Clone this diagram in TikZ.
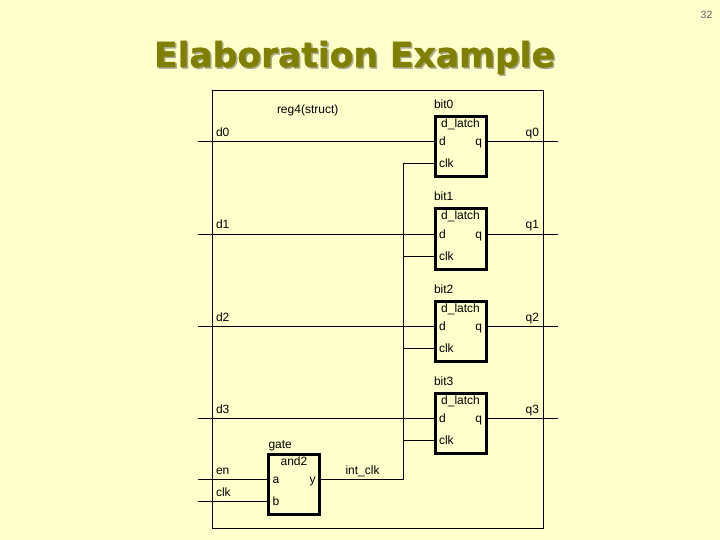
\documentclass[tikz,border=0pt]{standalone}
\usepackage{fontspec}
\setmainfont{Liberation Sans}
\newfontfamily\titlefont[FakeBold=1.2]{DejaVu Sans Bold}
\usepackage{xcolor}
\usetikzlibrary{positioning}
\definecolor{slideBg}{HTML}{FFFFCC}
\definecolor{titleOlive}{HTML}{808000}
\definecolor{titleShade}{HTML}{A8A890}
\definecolor{pageGray}{HTML}{606060}

\begin{document}
\begin{tikzpicture}[
    x=1pt, y=-1pt,
    txt/.style={
      inner sep=0pt, outer sep=0pt, text height=10pt, text depth=2pt,
      font=\fontsize{12}{14}\selectfont
    },
    heading/.style={
      inner sep=0pt, outer sep=0pt, font=\titlefont\fontsize{34.5}{40}\selectfont
    },
    block/.style={
      rectangle, draw, line width=3pt, inner sep=0pt, outer sep=0pt,
      minimum width=51pt, minimum height=60pt
    },
    wire/.style={line width=1pt},
  ]

  \useasboundingbox[fill=slideBg] (0,0) rectangle (720,540);

  %% ── Page number and title ──
  \node[txt, text=pageGray, font=\fontsize{10.5}{12}\selectfont] (page) at (706.5,15) {32};
  \node[heading, text=titleShade] (shadow) at (356,59) {Elaboration Example};
  \node[heading, text=titleOlive] (title) at (354.5,57.5) {Elaboration Example};

  %% ── Outer frame ──
  \node[rectangle, draw, line width=1pt, inner sep=0pt, outer sep=0pt,
        minimum width=331pt, minimum height=437pt] (frame) at (377.5,309.5) {};
  \node[txt, below right=13pt and 65pt of frame.north west] (reg4) {reg4(struct)};

  %% ── Latches ──
  \node[block]                     (bit0) at (460.5,147) {};
  \node[block, below=32pt of bit0] (bit1) {};
  \node[block, below=32pt of bit1] (bit2) {};
  \node[block, below=32pt of bit2] (bit3) {};

  %% ── Gate ──
  \node[block] (gate) at (294,484.5) {};

  %% ── Block names ──
  \node[txt, above right=6pt and -1pt of bit0.north west] (bit0name) {bit0};
  \node[txt, above right=6pt and -1pt of bit1.north west] (bit1name) {bit1};
  \node[txt, above right=6pt and -1pt of bit2.north west] (bit2name) {bit2};
  \node[txt, above right=6pt and -1pt of bit3.north west] (bit3name) {bit3};
  \node[txt, above right=4.5pt and 0pt of gate.north west] (gatename) {gate};

  \node[txt, below=1pt of bit0.north] (bit0type) {d\_latch};
  \node[txt, below=1pt of bit1.north] (bit1type) {d\_latch};
  \node[txt, below=1pt of bit2.north] (bit2type) {d\_latch};
  \node[txt, below=1pt of bit3.north] (bit3type) {d\_latch};
  \node[txt, below=0.5pt of gate.north] (gatetype) {and2};

  %% ── Pin labels ──
  \node[txt, below right=19pt and 4pt of bit0.north west] (bit0d) {d};
  \node[txt, below left=19pt and 4pt of bit0.north east]  (bit0q) {q};
  \node[txt, below right=41pt and 4pt of bit0.north west] (bit0clk) {clk};
  \node[txt, below right=19pt and 4pt of bit1.north west] (bit1d) {d};
  \node[txt, below left=19pt and 4pt of bit1.north east]  (bit1q) {q};
  \node[txt, below right=41pt and 4pt of bit1.north west] (bit1clk) {clk};
  \node[txt, below right=19pt and 4pt of bit2.north west] (bit2d) {d};
  \node[txt, below left=19pt and 4pt of bit2.north east]  (bit2q) {q};
  \node[txt, below right=41pt and 4pt of bit2.north west] (bit2clk) {clk};
  \node[txt, below right=19pt and 4pt of bit3.north west] (bit3d) {d};
  \node[txt, below left=19pt and 4pt of bit3.north east]  (bit3q) {q};
  \node[txt, below right=41pt and 4pt of bit3.north west] (bit3clk) {clk};

  \node[txt, below right=18.5pt and 4pt of gate.north west] (gatea) {a};
  \node[txt, below right=40.5pt and 4pt of gate.north west] (gateb) {b};
  \node[txt, below left=18.5pt and 4pt of gate.north east]  (gatey) {y};

  %% ── Ports ──
  \coordinate (d0in) at (198,142);
  \coordinate (d1in) at (198,234);
  \coordinate (d2in) at (198,326);
  \coordinate (d3in) at (198,418);
  \coordinate (enin) at (198,479);
  \coordinate (clkin) at (198,501);
  \coordinate (q0out) at (558,142);
  \coordinate (q1out) at (558,234);
  \coordinate (q2out) at (558,326);
  \coordinate (q3out) at (558,418);
  \coordinate (clkbus) at (403.5,164);

  \node[txt, above right=3pt and 18pt of d0in] (d0) {d0};
  \node[txt, above right=3pt and 18pt of d1in] (d1) {d1};
  \node[txt, above right=3pt and 18pt of d2in] (d2) {d2};
  \node[txt, above right=3pt and 18pt of d3in] (d3) {d3};
  \node[txt, above right=3pt and 18pt of enin] (en) {en};
  \node[txt, above right=3pt and 18pt of clkin] (clk) {clk};
  \node[txt, above left=3pt and 19pt of q0out] (q0) {q0};
  \node[txt, above left=3pt and 19pt of q1out] (q1) {q1};
  \node[txt, above left=3pt and 19pt of q2out] (q2) {q2};
  \node[txt, above left=3pt and 19pt of q3out] (q3) {q3};
  \node[txt, above right=3pt and 26pt of gatey.center -| gate.east] (intclk) {int\_clk};

  %% ── Data wires ──
  \draw[wire] (d0in) -- (bit0d -| bit0.west);
  \draw[wire] (d1in) -- (bit1d -| bit1.west);
  \draw[wire] (d2in) -- (bit2d -| bit2.west);
  \draw[wire] (d3in) -- (bit3d -| bit3.west);
  \draw[wire] (bit0q -| bit0.east) -- (q0out);
  \draw[wire] (bit1q -| bit1.east) -- (q1out);
  \draw[wire] (bit2q -| bit2.east) -- (q2out);
  \draw[wire] (bit3q -| bit3.east) -- (q3out);
  \draw[wire] (enin) -- (gatea -| gate.west);
  \draw[wire] (clkin) -- (gateb -| gate.west);

  %% ── Clock wires ──
  \draw[wire] (gatey -| gate.east) -| (clkbus) -- (bit0clk -| bit0.west);
  \draw[wire] (bit1clk -| clkbus) -- (bit1clk -| bit1.west);
  \draw[wire] (bit2clk -| clkbus) -- (bit2clk -| bit2.west);
  \draw[wire] (bit3clk -| clkbus) -- (bit3clk -| bit3.west);

\end{tikzpicture}
\end{document}
